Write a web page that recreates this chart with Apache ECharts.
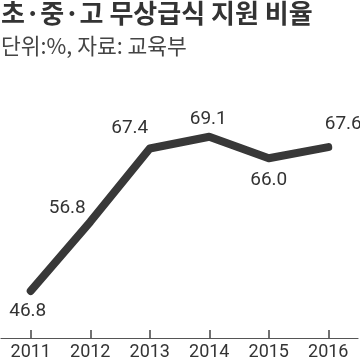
<!DOCTYPE html>
<html><head><meta charset="utf-8">
<script src="https://cdn.jsdelivr.net/npm/echarts@6/dist/echarts.min.js"></script>
<style>html,body{margin:0;padding:0;background:#fff}#c{width:360px;height:361px}</style>
</head><body><div id="c"></div>
<script>
const years = ['2011','2012','2013','2014','2015','2016'];
const values = [46.8, 56.8, 67.4, 69.1, 66.0, 67.6];
const labelOffsets = [[-3,20],[-23,-14],[-20,-20],[-1,-18],[0,22],[15,-23]];
const numFont = 'Roboto, sans-serif';
const chart = echarts.init(document.getElementById('c'));
chart.setOption({
  animation:false,
  title:[
    {text:'초·중·고 무상급식 지원 비율', left:-4, top:-5, textStyle:{fontFamily:'"Noto Sans CJK KR"', fontWeight:'bold', fontSize:26, color:'#333'}},
    {text:'단위:%, 자료: 교육부', left:-4, top:30, textStyle:{fontFamily:'"Noto Sans CJK KR"', fontWeight:'normal', fontSize:21.5, color:'#444'}}
  ],
  grid:{left:1, right:2, top:96, bottom:23},
  xAxis:{type:'category', data:years, boundaryGap:true,
    axisLine:{show:true, lineStyle:{color:'#555', width:1.2}},
    axisTick:{show:true, inside:true, alignWithLabel:true, length:8, lineStyle:{color:'#444', width:1.5}},
    axisLabel:{fontFamily:numFont, fontWeight:'normal', fontSize:18, color:'#333', margin:5}},
  yAxis:{type:'value', min:40, max:75, show:false, splitLine:{show:false}},
  series:[{type:'line', data:values.map((v,i)=>({value:v, label:{offset:labelOffsets[i]}})),
    symbol:'circle', symbolSize:6, showSymbol:true, itemStyle:{color:'#383838'},
    lineStyle:{color:'#383838', width:8, cap:'round', join:'round'},
    label:{show:true, position:'inside', formatter:p=>p.value.toFixed(1), fontFamily:numFont, fontWeight:'normal', fontSize:19, color:'#333'}
  }]
});
</script></body></html>
